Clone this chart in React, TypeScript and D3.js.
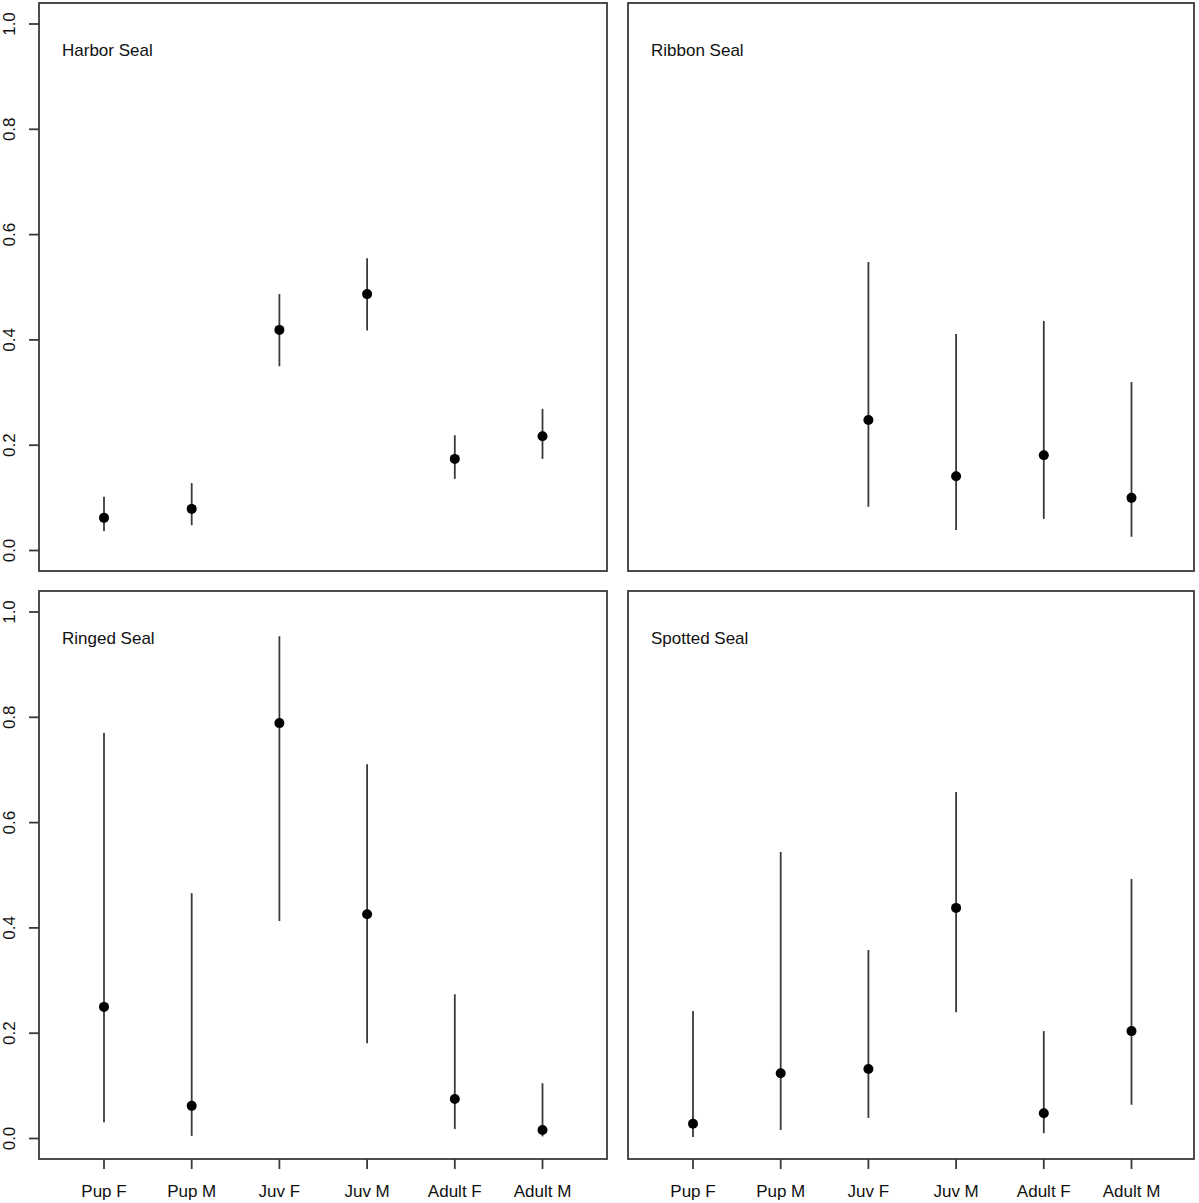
import React from "react";
import * as d3 from "d3";

const categories = ["Pup F", "Pup M", "Juv F", "Juv M", "Adult F", "Adult M"];
const yTicks = [0, 0.2, 0.4, 0.6, 0.8, 1.0];

const harborEst = [0.062, 0.079, 0.419, 0.487, 0.174, 0.217];
const harborLo = [0.037, 0.048, 0.35, 0.418, 0.136, 0.174];
const harborHi = [0.102, 0.128, 0.487, 0.555, 0.219, 0.269];

const ribbonEst = [null, null, 0.248, 0.141, 0.181, 0.1];
const ribbonLo = [null, null, 0.083, 0.039, 0.06, 0.026];
const ribbonHi = [null, null, 0.548, 0.411, 0.436, 0.32];

const ringedEst = [0.25, 0.062, 0.789, 0.426, 0.075, 0.016];
const ringedLo = [0.031, 0.005, 0.413, 0.181, 0.018, 0.004];
const ringedHi = [0.77, 0.466, 0.954, 0.711, 0.274, 0.105];

const spottedEst = [0.028, 0.124, 0.132, 0.438, 0.048, 0.204];
const spottedLo = [0.003, 0.016, 0.039, 0.24, 0.01, 0.064];
const spottedHi = [0.242, 0.544, 0.358, 0.658, 0.204, 0.493];

const panelNames = ["Harbor Seal", "Ribbon Seal", "Ringed Seal", "Spotted Seal"];

const FONT = "'Liberation Sans', Arial, sans-serif";
const LINE = "#3a3a3a";

type Panel = {
  name: string;
  est: (number | null)[];
  lo: (number | null)[];
  hi: (number | null)[];
  x0: number;
  x1: number;
  y0: number;
  y1: number;
  showY: boolean;
  showX: boolean;
};

function PanelView({ p }: { p: Panel }) {
  const unit = 87.7;
  const padL = 65 / unit;
  const padR = (p.x1 - p.x0) / unit - (categories.length - 1) - padL;
  const x = d3
    .scaleLinear()
    .domain([1 - padL, categories.length + padR])
    .range([p.x0, p.x1]);
  const plotTop = p.y0 + 21;
  const plotBottom = p.y1 - 20.5;
  const y = d3.scaleLinear().domain([0, 1]).range([plotBottom, plotTop]);
  return (
    <g>
      <rect
        x={p.x0}
        y={p.y0}
        width={p.x1 - p.x0}
        height={p.y1 - p.y0}
        fill="none"
        stroke={LINE}
        strokeWidth={1.8}
      />
      <text x={p.x0 + 23} y={p.y0 + 53} fontFamily={FONT} fontSize={17} fill="#111">
        {p.name}
      </text>
      {p.showY &&
        yTicks.map((t) => (
          <g key={t}>
            <line x1={p.x0 - 10} x2={p.x0} y1={y(t)} y2={y(t)} stroke={LINE} strokeWidth={1.8} />
            <text
              transform={`translate(${p.x0 - 24},${y(t)}) rotate(-90)`}
              textAnchor="middle"
              fontFamily={FONT}
              fontSize={17}
              fill="#111"
            >
              {t.toFixed(1)}
            </text>
          </g>
        ))}
      {p.showX &&
        categories.map((c, i) => (
          <g key={c}>
            <line x1={x(i + 1)} x2={x(i + 1)} y1={p.y1} y2={p.y1 + 10} stroke={LINE} strokeWidth={1.8} />
            <text
              x={x(i + 1)}
              y={p.y1 + 38}
              textAnchor="middle"
              fontFamily={FONT}
              fontSize={17}
              fill="#111"
            >
              {c}
            </text>
          </g>
        ))}
      {categories.map((c, i) => {
        const e = p.est[i];
        const lo = p.lo[i];
        const hi = p.hi[i];
        if (e == null || lo == null || hi == null) return null;
        return (
          <g key={"m" + c}>
            <line x1={x(i + 1)} x2={x(i + 1)} y1={y(lo)} y2={y(hi)} stroke={LINE} strokeWidth={1.8} />
            <circle cx={x(i + 1)} cy={y(e)} r={5} fill="#000" />
          </g>
        );
      })}
    </g>
  );
}

export default function App() {
  const panels: Panel[] = [
    { name: panelNames[0], est: harborEst, lo: harborLo, hi: harborHi, x0: 39, x1: 607, y0: 3, y1: 571, showY: true, showX: false },
    { name: panelNames[1], est: ribbonEst, lo: ribbonLo, hi: ribbonHi, x0: 628, x1: 1194, y0: 3, y1: 571, showY: false, showX: false },
    { name: panelNames[2], est: ringedEst, lo: ringedLo, hi: ringedHi, x0: 39, x1: 607, y0: 591, y1: 1159, showY: true, showX: true },
    { name: panelNames[3], est: spottedEst, lo: spottedLo, hi: spottedHi, x0: 628, x1: 1194, y0: 591, y1: 1159, showY: false, showX: true },
  ];
  return (
    <svg
      width={1199}
      height={1203}
      style={{ position: "absolute", left: 0, top: 0, background: "#fff" }}
    >
      <rect width={1199} height={1203} fill="#fff" />
      {panels.map((p) => (
        <PanelView key={p.name} p={p} />
      ))}
    </svg>
  );
}
